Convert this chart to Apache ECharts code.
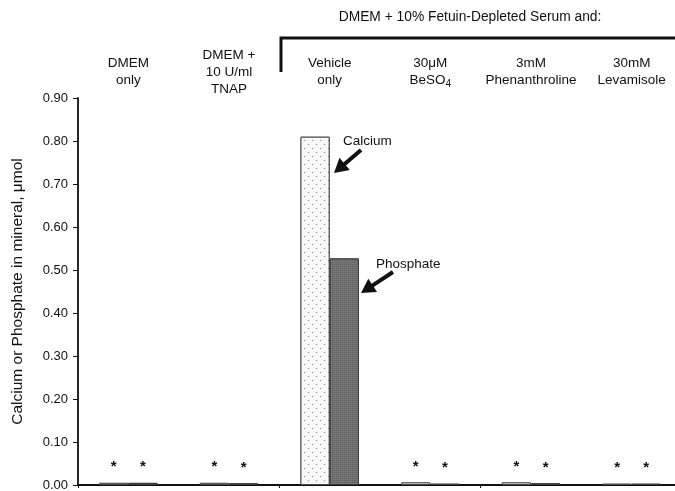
<!DOCTYPE html>
<html><head><meta charset="utf-8">
<script src="https://cdn.jsdelivr.net/npm/echarts@6/dist/echarts.min.js"></script>
<style>html,body{margin:0;padding:0;background:#fff}#c{width:675px;height:491px}</style>
</head><body><div id="c"></div>
<script>
const categories = ['DMEM\nonly', 'DMEM +\n10 U/ml\nTNAP', 'Vehicle\nonly', '30\u03bcM\nBeSO{sub|4}', '3mM\nPhenanthroline', '30mM\nLevamisole'];
const calcium   = [0.005, 0.005, 0.81, 0.006, 0.006, 0.003];
const phosphate = [0.005, 0.004, 0.527, 0.003, 0.004, 0.003];
const significant = [true, true, false, true, true, true];
const yTicks = [0, 0.1, 0.2, 0.3, 0.4, 0.5, 0.6, 0.7, 0.8, 0.9];
const groupTitle = 'DMEM + 10% Fetuin-Depleted Serum and:';
const yName = 'Calcium or Phosphate in mineral, \u03bcmol';

const FONT = 'Liberation Sans, Arial, sans-serif';
function withStars(vals) {
  return vals.map((v, i) => ({
    value: v,
    label: { show: significant[i], formatter: '*', position: 'top', distance: 8,
             fontSize: 15, fontWeight: 'bold', color: '#111', fontFamily: FONT }
  }));
}
function arrow(tail, tip) {
  const dx = tip[0] - tail[0], dy = tip[1] - tail[1];
  const L = Math.hypot(dx, dy), ux = dx / L, uy = dy / L, px = -uy, py = ux;
  const hl = 14, hw = 8, sw = 2;
  const bx = tip[0] - ux * hl, by = tip[1] - uy * hl;
  return [
    [tail[0] + px * sw, tail[1] + py * sw], [bx + px * sw, by + py * sw],
    [bx + px * hw, by + py * hw], tip,
    [bx - px * hw, by - py * hw], [bx - px * sw, by - py * sw],
    [tail[0] - px * sw, tail[1] - py * sw]
  ];
}

const chart = echarts.init(document.getElementById('c'), null, { renderer: 'canvas' });
chart.setOption({
  animation: false,
  textStyle: { fontFamily: FONT },
  grid: { left: 78, width: 604, top: 98, bottom: 6, containLabel: false, outerBoundsMode: 'none' },
  xAxis: [
    { type: 'category', data: categories, position: 'bottom',
      axisLine: { lineStyle: { color: '#111', width: 1.8 } },
      axisTick: { show: true, length: 3, lineStyle: { color: '#111' } },
      axisLabel: { show: false } },
    { type: 'category', data: categories, position: 'top',
      axisLine: { show: false }, axisTick: { show: false },
      axisLabel: { show: true, margin: 26, verticalAlign: 'middle', interval: 0,
        fontSize: 13.5, lineHeight: 17, color: '#111', fontFamily: FONT,
        rich: { sub: { fontSize: 10, padding: [8, 0, 0, 0], color: '#111' } } } }
  ],
  yAxis: {
    type: 'value', min: 0, max: 0.9, interval: 0.1,
    name: yName, nameLocation: 'middle', nameGap: 52, nameRotate: 90,
    nameTextStyle: { fontSize: 15.5, color: '#111', fontFamily: FONT },
    axisLine: { show: true, lineStyle: { color: '#111', width: 1.8 } },
    axisTick: { show: true, length: 5, lineStyle: { color: '#111' } },
    splitLine: { show: false },
    axisLabel: { fontSize: 13, color: '#111', margin: 10,
      formatter: v => yTicks.some(t => Math.abs(t - v) < 1e-9) ? v.toFixed(2) : '' }
  },
  series: [
    { name: 'Calcium', type: 'bar', data: withStars(calcium), barGap: '0%', barCategoryGap: '42%',
      itemStyle: { color: '#f7f7f7', borderColor: '#4a4a4a', borderWidth: 1,
        decal: { symbol: 'rect', symbolSize: 1, color: '#8a8a8a', backgroundColor: '#f7f7f7',
                 dashArrayX: [[1, 7], [0, 4, 1, 3]], dashArrayY: [1, 3] } } },
    { name: 'Phosphate', type: 'bar', data: withStars(phosphate),
      itemStyle: { color: '#6c6c6c', borderColor: '#3a3a3a', borderWidth: 1,
        decal: { symbol: 'rect', symbolSize: 1, color: '#5a5a5a', backgroundColor: '#767676',
                 dashArrayX: [1, 1], dashArrayY: [1, 1] } } }
  ],
  graphic: [
    { type: 'text', x: 470, y: 17, style: { text: groupTitle, fontSize: 13.8, fontFamily: FONT,
        fill: '#111', align: 'center', verticalAlign: 'middle' } },
    { type: 'polyline', shape: { points: [[281, 72], [281, 38], [676, 38]] },
      style: { stroke: '#111', lineWidth: 3, fill: null } },
    { type: 'text', x: 343, y: 141, style: { text: 'Calcium', fontSize: 13.5, fontFamily: FONT,
        fill: '#111', align: 'left', verticalAlign: 'middle' } },
    { type: 'polygon', shape: { points: arrow([361, 150], [334, 173]) }, style: { fill: '#111' } },
    { type: 'text', x: 376, y: 264, style: { text: 'Phosphate', fontSize: 13.5, fontFamily: FONT,
        fill: '#111', align: 'left', verticalAlign: 'middle' } },
    { type: 'polygon', shape: { points: arrow([393, 272], [361, 293]) }, style: { fill: '#111' } }
  ]
});
</script></body></html>
